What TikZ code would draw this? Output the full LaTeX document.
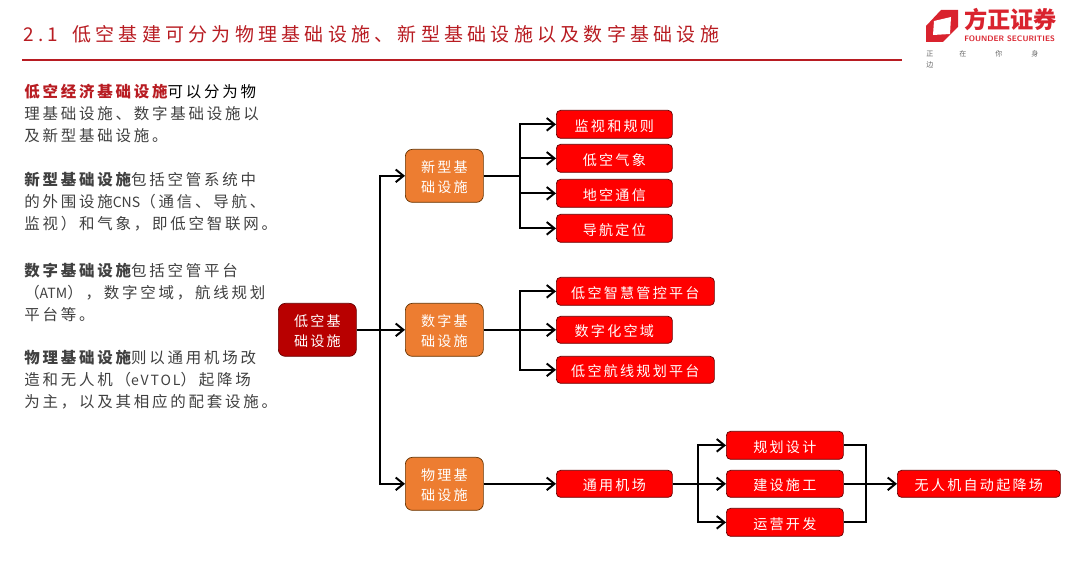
\documentclass[tikz,border=0pt]{standalone}
\usepackage{fontspec}
\setmainfont{Noto Sans CJK SC}
\newfontfamily\boxfont[LetterSpace=16]{Noto Sans CJK SC}
\newfontfamily\bodyfont[LetterSpace=18]{Noto Sans CJK SC}
\newfontfamily\headfont[LetterSpace=22.5]{Noto Sans CJK SC}
\usepackage{xcolor}
\usetikzlibrary{arrows.meta}
\definecolor{foundred}{HTML}{B81C22}
\definecolor{logored}{HTML}{D9232E}
\definecolor{rootred}{HTML}{B80000}
\definecolor{boxorange}{HTML}{ED7D31}
\definecolor{bodygray}{HTML}{404040}
\tikzset{
    basebox/.style={draw=black!60!red, line width=0.5pt, rounded corners=3pt, text=white, anchor=north west, inner sep=0pt, font=\boxfont\fontsize{10pt}{14pt}\selectfont, align=center},
    leafbox/.style={basebox, fill=red, text height=10.5pt},
    midbox/.style={basebox, fill=boxorange, draw=black!60!orange, rounded corners=5pt, text height=24.7pt},
    rootbox/.style={basebox, fill=rootred, rounded corners=5pt, text height=24.7pt},
    para/.style={anchor=north west, inner sep=0pt, align=left, text=bodygray, font=\bodyfont\fontsize{11pt}{15.65pt}\selectfont},
    link/.style={line width=1.4pt, -{Straight Barb[length=5.5pt,width=9pt,line width=1.4pt]}},
    plainlink/.style={line width=1.4pt},
    tagline/.style={inner sep=0pt, text=black!60, font=\fontsize{5pt}{6pt}\selectfont},
}
\newcommand{\leaf}[6]{
    \node[leafbox, minimum width=#4*0.025cm, minimum height=#5*0.025cm] (#1) at (#2,#3) {#6};
}
\newcommand{\midblock}[3]{
    \node[midbox, minimum width=78*0.025cm, minimum height=53*0.025cm] (#1) at (405,#2) {#3};
}
\newcommand{\latinpart}[2][0]{{\addfontfeature{LetterSpace=#1}\fontsize{10pt}{15.65pt}\selectfont #2}}
\begin{document}
\begin{tikzpicture}[x=0.025cm,y=-0.025cm]
    \useasboundingbox (0,0) rectangle (1068,569);
    % header
    \node[anchor=west, inner sep=0pt, text=foundred, font=\headfont\fontsize{13.5pt}{16pt}\selectfont] (title) at (23,34) {2.1\hspace{4pt} 低空基建可分为物理基础设施、新型基础设施以及数字基础设施};
    \coordinate (ruleL) at (22,60);
    \coordinate (ruleR) at (902,60);
    \draw[foundred, line width=1.2pt] (ruleL) -- (ruleR);
    % logo
    \fill[logored] (926,26) -- (941,10) -- (958,10) -- (958,27) -- (943,42) -- (926,42) -- cycle;
    \fill[white] (934,21) -- (951,17) -- (950,34) -- (933,35) -- cycle;
    \node[anchor=west, inner sep=0pt, text=logored, font=\bfseries\fontsize{16.5pt}{18pt}\selectfont] (logoname) at (964,20) {方正证券};
    \node[anchor=west, inner sep=0pt, text=logored, font=\sffamily\bfseries\fontsize{5.6pt}{6pt}\selectfont] (logoeng) at (964,39) {FOUNDER SECURITIES};
    \node[tagline] (s1) at (930,54) {正};
    \node[tagline] (s2) at (963,54) {在};
    \node[tagline] (s3) at (999,54) {你};
    \node[tagline] (s4) at (1035,54) {身};
    \node[tagline] (s5) at (930,65) {边};
    % left text
    \node[para] (p1) at (24,84) {\textcolor{foundred}{\bfseries 低空经济基础设施}\textcolor{black}{可以分为物}\\理基础设施、数字基础设施以\\及新型基础设施。};
    \node[para] (p2) at (24,172) {{\bfseries 新型基础设施}包括空管系统中\\的外围设施\latinpart{CNS}（通信、导航、\\监视）和气象，即低空智联网。};
    \node[para] (p3) at (24,263) {{\bfseries 数字基础设施}包括空管平台\\（\latinpart{ATM}），数字空域，航线规划\\平台等。};
    \node[para] (p4) at (24,350) {{\bfseries 物理基础设施}则以通用机场改\\造和无人机（\latinpart[14]{eVTOL}）起降场\\为主，以及其相应的配套设施。};
    % blocks
    \node[rootbox, minimum width=78*0.025cm, minimum height=53*0.025cm] (root) at (278,303) {低空基\\础设施};
    \midblock{newinf}{149}{新型基\\础设施}
    \midblock{diginf}{303}{数字基\\础设施}
    \midblock{phyinf}{457}{物理基\\础设施}
    \leaf{watch}{556}{110}{116}{28}{监视和规则}
    \leaf{weather}{556}{144}{116}{28}{低空气象}
    \leaf{comm}{556}{179}{116}{28}{地空通信}
    \leaf{navi}{556}{214}{116}{28}{导航定位}
    \leaf{ctrl}{556}{277}{158}{28}{低空智慧管控平台}
    \leaf{space}{556}{316}{116}{27}{数字化空域}
    \leaf{route}{556}{356}{158}{27}{低空航线规划平台}
    \leaf{airport}{556}{470}{116}{27}{通用机场}
    \leaf{plan}{726}{431}{117}{28}{规划设计}
    \leaf{build}{726}{470}{117}{27}{建设施工}
    \leaf{ops}{726}{508}{117}{28}{运营开发}
    \leaf{drone}{897}{470}{163}{27}{无人机自动起降场}
    % connectors
    \coordinate (colA) at (380,0);
    \coordinate (colB) at (520,0);
    \coordinate (colD) at (698,0);
    \coordinate (colE) at (866,0);
    \coordinate (trunkA) at (colA |- root.east);
    \coordinate (trunkB) at (colB |- newinf.east);
    \coordinate (trunkC) at (colB |- diginf.east);
    \coordinate (trunkD) at (colD |- airport.east);
    \coordinate (trunkE) at (colE |- drone.west);
    \draw[link] (root.east) -- (diginf.west);
    \draw[link] (trunkA) |- (newinf.west);
    \draw[link] (trunkA) |- (phyinf.west);
    \draw[plainlink] (newinf.east) -- (trunkB);
    \foreach \n in {watch,weather,comm,navi}{
        \draw[link] (trunkB) |- (\n.west);
    }
    \draw[plainlink] (diginf.east) -- (trunkC);
    \foreach \n in {ctrl,space,route}{
        \draw[link] (trunkC) |- (\n.west);
    }
    \draw[link] (phyinf.east) -- (airport.west);
    \draw[plainlink] (airport.east) -- (trunkD);
    \foreach \n in {plan,build,ops}{
        \draw[link] (trunkD) |- (\n.west);
    }
    \draw[plainlink] (plan.east) -| (trunkE);
    \draw[plainlink] (ops.east) -| (trunkE);
    \draw[plainlink] (build.east) -- (trunkE);
    \draw[link] (trunkE) -- (drone.west);
\end{tikzpicture}
\end{document}
